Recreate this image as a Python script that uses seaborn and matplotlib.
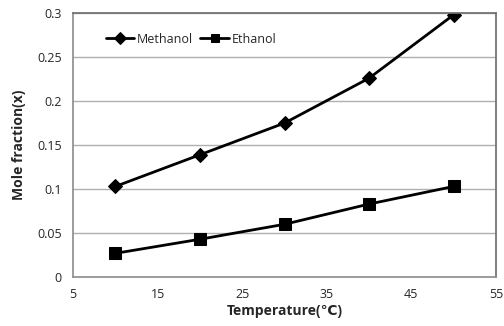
import pandas as pd
import numpy as np
import matplotlib
matplotlib.use("Agg")
import matplotlib.pyplot as plt
import seaborn as sns

# Values
temperature = [10, 20, 30, 40, 50]
methanol = [0.103, 0.139, 0.175, 0.226, 0.298]
ethanol = [0.027, 0.043, 0.060, 0.083, 0.103]

df = pd.DataFrame({
    'Temperature': temperature * 2,
    'Mole fraction': methanol + ethanol,
    'Solvent': ['Methanol'] * len(temperature) + ['Ethanol'] * len(temperature),
})

sns.set_theme(style="white")
plt.rcParams['font.family'] = ['Open Sans', 'DejaVu Sans']

fig = plt.figure(figsize=(5.04, 3.26), dpi=100)
ax = fig.add_axes([0.145, 0.150, 0.839, 0.810])

sns.lineplot(data=df, x='Temperature', y='Mole fraction', hue='Solvent', style='Solvent',
             markers={'Methanol': 'D', 'Ethanol': 's'}, dashes=False,
             palette={'Methanol': 'black', 'Ethanol': 'black'},
             markersize=7, linewidth=2, markeredgecolor='black', ax=ax)

# square marker a bit bigger than the diamond
for line in ax.lines:
    if line.get_marker() == 's':
        line.set_markersize(9)

ax.set_xlim(5, 55)
ax.set_ylim(0, 0.3)
ax.set_xticks([5, 15, 25, 35, 45, 55])
ax.set_yticks([0, 0.05, 0.1, 0.15, 0.2, 0.25, 0.3])
ax.set_yticklabels(['0', '0.05', '0.1', '0.15', '0.2', '0.25', '0.3'])
ax.yaxis.grid(True, color='#b0b0b0', linewidth=1)
ax.tick_params(axis='x', direction='in', length=4, color='#808080', labelsize=9, pad=8)
ax.tick_params(axis='y', length=0, labelsize=9, pad=8)
for s in ['left', 'bottom']:
    ax.spines[s].set_color('#909090')
for s in ['top', 'right']:
    ax.spines[s].set_color('#707070')

ax.set_xlabel('Temperature(℃)', fontsize=10, fontweight='bold', labelpad=2)
ax.set_ylabel('Mole fraction(x)', fontsize=10, fontweight='bold', labelpad=8)

leg = ax.legend(loc='upper left', ncol=2, frameon=False, fontsize=9,
                bbox_to_anchor=(0.065, 0.945), handlelength=2.3, handletextpad=0.2,
                columnspacing=0.6, borderaxespad=0)
for h in leg.legend_handles:
    h.set_markersize(6)

fig.savefig('out.png', dpi=100)
